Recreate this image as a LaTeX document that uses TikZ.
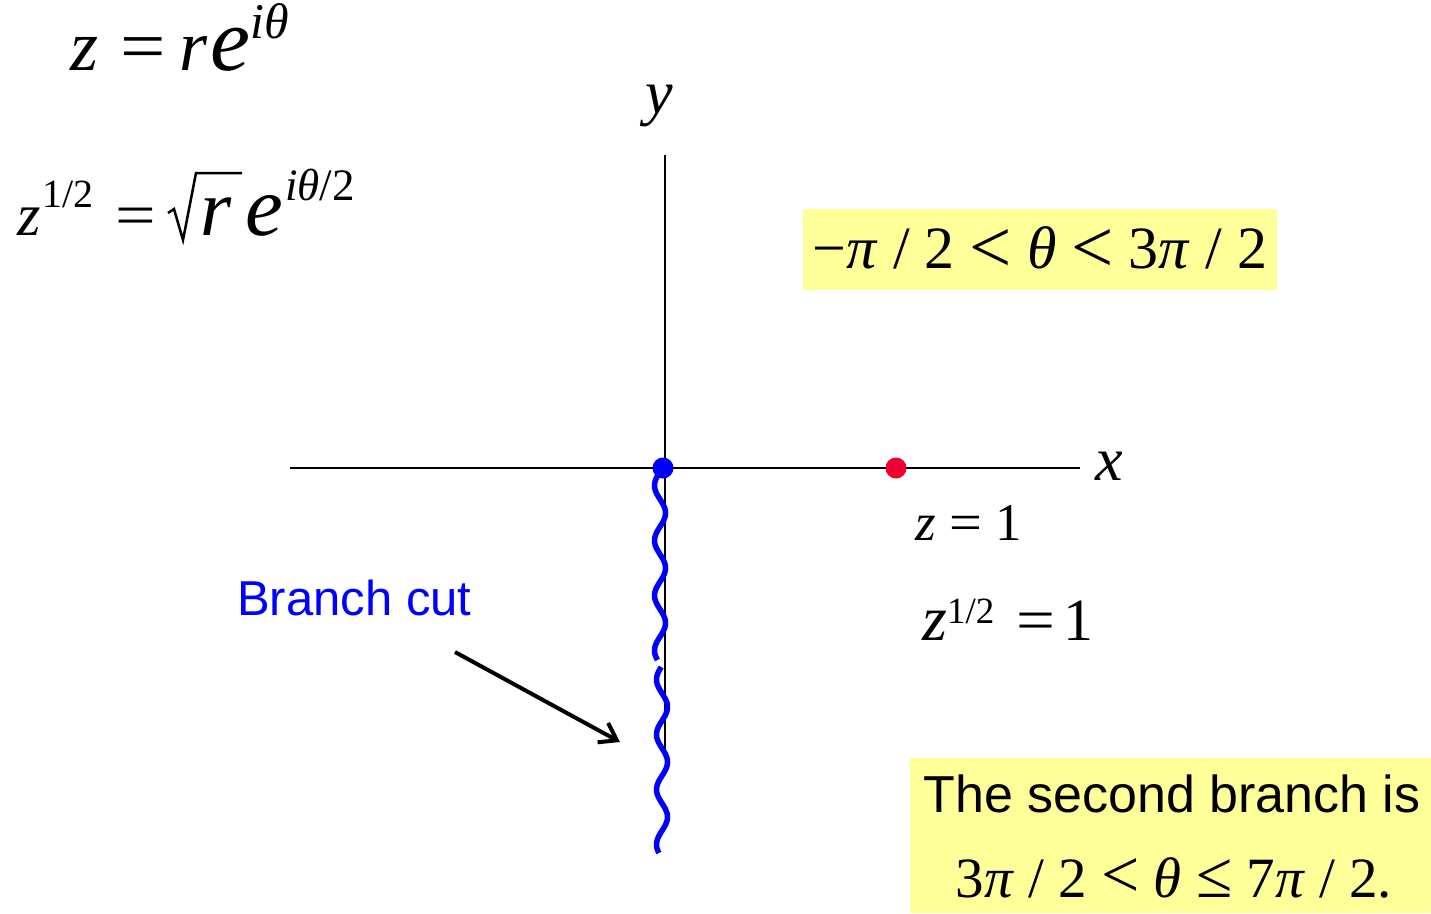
\documentclass[tikz,border=0pt]{standalone}
\usepackage{graphicx}
\usepackage{fontspec}
\setmainfont{Liberation Serif}
\newfontfamily\arial{Liberation Sans}
\usetikzlibrary{arrows.meta}
\definecolor{hl}{RGB}{255,255,153}
\definecolor{reddot}{RGB}{240,0,50}
\newcommand\fs[1]{\fontsize{#1}{#1}\selectfont}
\newcommand\lessth[1]{{\fs{#1}\raisebox{-0.05em}{<}}}
\newcommand\bigsym[2]{{\fs{#1}#2}}
\newcommand\eqs[1]{\scalebox{#1}[1]{=}}
\begin{document}
\begin{tikzpicture}[x=1pt,y=-1pt,
 axis/.style={line width=2pt},
 cut/.style={blue,line width=5.5pt},
 txt/.style={anchor=base west,inner sep=0pt},
 hlbox/.style={fill=hl,draw=none,inner sep=0pt},
 dot/.style={circle,inner sep=0pt,minimum size=21pt}]
\useasboundingbox (0,0) rectangle (1431,913);
% highlight boxes
\node[hlbox,minimum width=474pt,minimum height=81pt] (b1) at (1040,249.5) {\fs{60}−\textit{π} / 2 \lessth{75} \textit{θ} \lessth{75} 3\textit{π} / 2};
\node[hlbox,minimum width=521pt,minimum height=155pt,anchor=north west] (b2) at (910,758) {};
\node[txt,anchor=base] (t2a) at (1172,812) {\arial\fs{52}The second branch is};
\node[txt,anchor=base] (t2b) at (1174,897) {\fs{57}3\textit{π} / 2 \bigsym{68}{<} \textit{θ} \bigsym{66}{≤} 7\textit{π} / 2.};
% axes
\coordinate (xl) at (290,468);
\coordinate (xr) at (1080,468);
\coordinate (yt) at (665,155);
\coordinate (yb) at (665,755);
\draw[axis] (xl) -- (xr);
\draw[axis] (yt) -- (yb);
\node[txt] (xlab) at (1095,480) {\fs{62}\textit{x}};
\node[txt] (ylab) at (645,113) {\fs{62}\textit{y}};
% branch cut
\draw[cut] plot[domain=472:660,samples=120,smooth] ({660+5.5*cos((\x-513)/55*360)},\x);
\draw[cut] plot[domain=667:853,samples=120,smooth] ({662+5.5*cos((\x-707)/55*360)},\x);
\node[dot,fill=blue] (o) at (663,468) {};
\node[dot,fill=reddot] (one) at (896,468) {};
% labels
\node[txt,text=blue] (bc) at (237,615) {\arial\fs{49}Branch cut};
\coordinate (arrS) at (455,652);
\coordinate (arrE) at (620,742);
\draw[line width=4pt,-{Straight Barb[length=16pt,width=22pt]}] (arrS) -- (arrE);
\node[txt] (zl) at (915,540) {\fs{53}\textit{z} \eqs{1.1} 1};
\node[txt] (zh) at (922,640) {\fs{64}\textit{z}\raisebox{17pt}{\fs{37}1/2}\fs{60}\hspace{22pt}\eqs{1.15}\hspace{8pt}1};
% formulas
\node[txt] (f1) at (70,70) {\fs{72}\textit{z}\hspace{22pt}\eqs{1.12}\hspace{14pt}\textit{r}\hspace{3pt}{\fs{90}\textit{e}}\hspace{0pt}\raisebox{32pt}{\fs{50}\textit{iθ}}};
\node[txt] (f2) at (17,235) {\fs{60}\textit{z}\hspace{2pt}\raisebox{28pt}{\fs{40}1/2}\hspace{22pt}\eqs{1.2}\hspace{44pt}{\fs{80}\textit{r}}\hspace{14pt}{\fs{85}\textit{e}}\hspace{2pt}\raisebox{35pt}{\fs{45}\textit{iθ}/2}};
\draw[line width=2.5pt,line join=miter] (168,213) -- (174,209) -- (183,240) -- (196,173) -- (242,173);
\end{tikzpicture}
\end{document}
